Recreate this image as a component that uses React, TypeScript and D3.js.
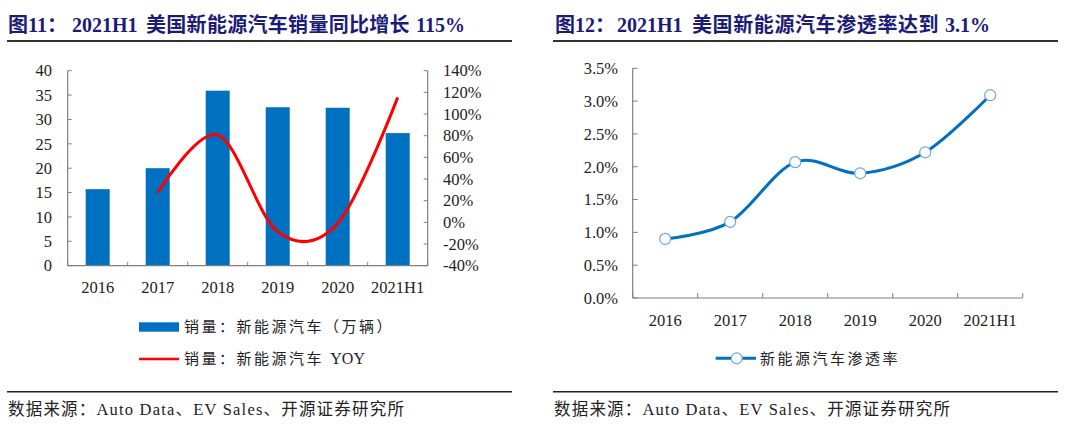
import React from 'react'
import * as d3 from 'd3'

const years = ['2016', '2017', '2018', '2019', '2020', '2021H1']
const sales = [15.7, 20.0, 35.9, 32.5, 32.4, 27.2]
const yoyYears = ['2017', '2018', '2019', '2020', '2021H1']
const yoy = [27.4, 80.6, -8.6, -0.9, 115.4]
const penetration = [0.9, 1.16, 2.07, 1.9, 2.22, 3.09]

const salesTicks = [0, 5, 10, 15, 20, 25, 30, 35, 40]
const yoyTicks = [-40, -20, 0, 20, 40, 60, 80, 100, 120, 140]
const penTicks = [0, 0.5, 1, 1.5, 2, 2.5, 3, 3.5]

const serif = '"Liberation Serif", "Noto Sans CJK SC", serif'
const cjk = '"Liberation Serif", "Noto Sans CJK SC", sans-serif'
const titleColor = '#1c1c78'
const axisColor = '#7f7f7f'
const blue = '#0070c0'
const tickSize = 16.5

const LeftChart: React.FC = () => {
  const x = d3.scaleBand().domain(years).range([67.7, 427.7]).paddingInner(0.6).paddingOuter(0.3)
  const xc = (d: string) => (x(d) as number) + x.bandwidth() / 2
  const y = d3.scaleLinear().domain([0, 40]).range([265.7, 70.7])
  const y2 = d3.scaleLinear().domain([-40, 140]).range([265.7, 70.7])
  const boundaries = d3.range(years.length + 1).map((i) => 67.7 + i * 60)

  const line = d3
    .line<number>()
    .x((_, i) => xc(yoyYears[i]))
    .y((d) => y2(d))
    .curve(d3.curveCardinal.tension(0))

  return (
    <g>
      <text y={32} fontFamily={cjk} fontWeight="bold" fontSize={20} fill={titleColor}>
        <tspan x={8}>图11：</tspan>
        <tspan x={72}>2021H1</tspan>
        <tspan x={146} letterSpacing={0.3}>美国新能源汽车销量同比增长</tspan>
        <tspan x={416}>115%</tspan>
      </text>
      <line x1={7} x2={512} y1={41} y2={41} stroke="#333" strokeWidth={2} />

      {sales.map((v, i) => (
        <rect key={years[i]} x={x(years[i])} y={y(v)} width={x.bandwidth()} height={y(0) - y(v)} fill={blue} />
      ))}
      <path d={line(yoy) || ''} fill="none" stroke="#ff0000" strokeWidth={3} />

      <line x1={67.7} x2={67.7} y1={70.7} y2={265.7} stroke={axisColor} strokeWidth={1.2} />
      <line x1={427.7} x2={427.7} y1={70.7} y2={265.7} stroke={axisColor} strokeWidth={1.2} />
      <line x1={67.7} x2={427.7} y1={265.7} y2={265.7} stroke={axisColor} strokeWidth={1.2} />
      {salesTicks.map((t) => (
        <g key={t}>
          <line x1={67.7} x2={71.7} y1={y(t)} y2={y(t)} stroke={axisColor} />
          <text x={52} y={y(t)} dy="0.35em" textAnchor="end" fontFamily={serif} fontSize={tickSize} fill="#222">
            {t}
          </text>
        </g>
      ))}
      {yoyTicks.map((t) => (
        <g key={t}>
          <line x1={423.7} x2={427.7} y1={y2(t)} y2={y2(t)} stroke={axisColor} />
          <text x={443} y={y2(t)} dy="0.35em" fontFamily={serif} fontSize={tickSize} fill="#222">
            {t}%
          </text>
        </g>
      ))}
      {boundaries.map((b) => (
        <line key={b} x1={b} x2={b} y1={265.7} y2={261.7} stroke={axisColor} />
      ))}
      {years.map((d) => (
        <text key={d} x={xc(d)} y={287} dy="0.35em" textAnchor="middle" fontFamily={serif} fontSize={tickSize} fill="#222">
          {d}
        </text>
      ))}

      <rect x={139} y={322.3} width={40} height={9.4} fill={blue} />
      <text x={184} y={327} dy="0.35em" fontFamily={cjk} fontSize={15} letterSpacing={2.5} fill="#222">
        销量：新能源汽车（万辆）
      </text>
      <line x1={139} x2={179} y1={359} y2={359} stroke="#ff0000" strokeWidth={2.5} />
      <text x={184} y={359} dy="0.35em" fontFamily={cjk} fontSize={15} fill="#222">
        <tspan letterSpacing={2.5}>销量：新能源汽车 </tspan>
        <tspan fontSize={16}>YOY</tspan>
      </text>

      <line x1={7} x2={512} y1={391.7} y2={391.7} stroke="#222" strokeWidth={1.5} />
      <text x={8} y={415} fontFamily={cjk} fontSize={16.5} letterSpacing={1.2} fill="#222">
        数据来源：Auto Data、EV Sales、开源证券研究所
      </text>
    </g>
  )
}

const RightChart: React.FC = () => {
  const x = d3.scaleBand().domain(years).range([632.7, 1022.7])
  const xc = (d: string) => (x(d) as number) + x.bandwidth() / 2
  const y = d3.scaleLinear().domain([0, 3.5]).range([298, 68.3])
  const boundaries = d3.range(years.length + 1).map((i) => 632.7 + i * 65)

  const line = d3
    .line<number>()
    .x((_, i) => xc(years[i]))
    .y((d) => y(d))
    .curve(d3.curveCardinal.tension(0))

  return (
    <g>
      <text y={32} fontFamily={cjk} fontWeight="bold" fontSize={20} fill={titleColor}>
        <tspan x={555}>图12：</tspan>
        <tspan x={617}>2021H1</tspan>
        <tspan x={692} letterSpacing={0.6}>美国新能源汽车渗透率达到</tspan>
        <tspan x={945}>3.1%</tspan>
      </text>
      <line x1={553} x2={1058} y1={41} y2={41} stroke="#333" strokeWidth={2} />

      <line x1={632.7} x2={632.7} y1={68.3} y2={298} stroke={axisColor} strokeWidth={1.2} />
      <line x1={632.7} x2={1022.7} y1={298} y2={298} stroke={axisColor} strokeWidth={1.2} />
      {penTicks.map((t) => (
        <g key={t}>
          <line x1={632.7} x2={637.7} y1={y(t)} y2={y(t)} stroke={axisColor} />
          <text x={618} y={y(t)} dy="0.35em" textAnchor="end" fontFamily={serif} fontSize={tickSize} fill="#222">
            {t.toFixed(1)}%
          </text>
        </g>
      ))}
      {boundaries.map((b) => (
        <line key={b} x1={b} x2={b} y1={298} y2={293} stroke={axisColor} />
      ))}
      {years.map((d) => (
        <text key={d} x={xc(d)} y={320} dy="0.35em" textAnchor="middle" fontFamily={serif} fontSize={tickSize} fill="#222">
          {d}
        </text>
      ))}

      <path d={line(penetration) || ''} fill="none" stroke={blue} strokeWidth={3} />
      {penetration.map((v, i) => (
        <circle key={years[i]} cx={xc(years[i])} cy={y(v)} r={5.5} fill="#fff" stroke="#6fa8dc" strokeWidth={1.2} />
      ))}

      <line x1={715.7} x2={756} y1={358.3} y2={358.3} stroke={blue} strokeWidth={3} />
      <circle cx={736.7} cy={358.3} r={5.5} fill="#fff" stroke="#6fa8dc" strokeWidth={1.2} />
      <text x={760} y={358.3} dy="0.35em" fontFamily={cjk} fontSize={15} letterSpacing={2.5} fill="#222">
        新能源汽车渗透率
      </text>

      <line x1={553} x2={1058} y1={391.7} y2={391.7} stroke="#222" strokeWidth={1.5} />
      <text x={554} y={415} fontFamily={cjk} fontSize={16.5} letterSpacing={1.2} fill="#222">
        数据来源：Auto Data、EV Sales、开源证券研究所
      </text>
    </g>
  )
}

export default function App() {
  return (
    <svg width={1080} height={435} style={{ position: 'absolute', left: 0, top: 0, background: '#fff' }}>
      <rect width={1080} height={435} fill="#fff" />
      <LeftChart />
      <RightChart />
    </svg>
  )
}
